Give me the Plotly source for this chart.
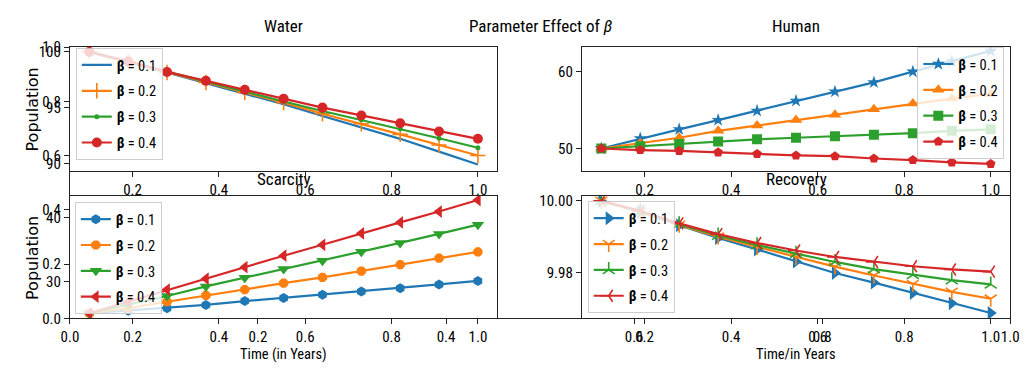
import plotly.graph_objects as go

# ---------------- data ----------------
time_x = [0.1, 0.19, 0.28, 0.37, 0.46, 0.55, 0.64, 0.73, 0.82, 0.91, 1.0]
beta_labels = ["<b>β</b> = 0.1", "<b>β</b> = 0.2", "<b>β</b> = 0.3", "<b>β</b> = 0.4"]

water_b1 = [100.0, 99.1, 98.15, 97.2, 96.25, 95.3, 94.25, 93.25, 92.2, 91.05, 89.9]
water_b2 = [100.0, 99.1, 98.15, 97.25, 96.35, 95.45, 94.45, 93.55, 92.6, 91.65, 90.7]
water_b3 = [100.0, 99.1, 98.2, 97.3, 96.45, 95.55, 94.7, 93.9, 93.1, 92.25, 91.4]
water_b4 = [100.0, 99.15, 98.2, 97.4, 96.6, 95.8, 95.0, 94.3, 93.6, 92.85, 92.2]

human_b1 = [50.0, 51.3, 52.5, 53.7, 54.9, 56.2, 57.4, 58.6, 60.0, 61.3, 62.7]
human_b2 = [50.0, 50.7, 51.4, 52.3, 53.0, 53.7, 54.4, 55.1, 55.85, 56.5, 57.1]
human_b3 = [50.0, 50.3, 50.6, 50.9, 51.2, 51.4, 51.6, 51.8, 52.0, 52.3, 52.5]
human_b4 = [50.0, 49.8, 49.7, 49.5, 49.3, 49.1, 49.0, 48.7, 48.5, 48.2, 48.0]

scarcity_b1 = [25.0, 25.4, 25.8, 26.3, 26.9, 27.4, 27.9, 28.4, 28.9, 29.5, 30.05]
scarcity_b2 = [25.0, 25.8, 26.8, 27.8, 28.7, 29.7, 30.6, 31.6, 32.6, 33.6, 34.6]
scarcity_b3 = [25.0, 26.3, 27.7, 29.2, 30.55, 31.9, 33.2, 34.6, 36.0, 37.4, 38.85]
scarcity_b4 = [25.0, 26.8, 28.7, 30.4, 32.2, 34.0, 35.7, 37.5, 39.2, 40.9, 42.7]

recovery_b1 = [10.0, 9.9969, 9.9932, 9.9896, 9.9864, 9.9830, 9.9798, 9.9771, 9.9742, 9.9713, 9.9686]
recovery_b2 = [10.0, 9.9970, 9.9933, 9.9900, 9.9871, 9.9843, 9.9816, 9.9791, 9.9767, 9.9745, 9.9726]
recovery_b3 = [10.0, 9.9971, 9.9935, 9.9903, 9.9876, 9.9852, 9.9829, 9.9809, 9.9793, 9.9778, 9.9766]
recovery_b4 = [10.0, 9.9972, 9.9937, 9.9907, 9.9882, 9.9861, 9.9843, 9.9829, 9.9817, 9.9808, 9.9802]

x_ticks = [0.2, 0.4, 0.6, 0.8, 1.0]
bg_ticks = [0.0, 0.2, 0.4, 0.6, 0.8, 1.0]
water_yticks = [90, 95, 100]
human_yticks = [50, 60]
scarcity_yticks = [30, 40]
recovery_yticks = [9.98, 10.00]

# ---------------- style ----------------
W, H = 1031, 374
COLORS = ["#1f77b4", "#ff7f0e", "#2ca02c", "#d62728"]
FONT = "Roboto Condensed, DejaVu Sans Condensed, Liberation Sans Narrow, Liberation Sans, sans-serif"
LINE = "#222222"


def dx(a, b):
    return [a / W, b / W]


def dy(top, bottom):
    return [1 - bottom / H, 1 - top / H]


fig = go.Figure()


def add_series(ys, xa, ya, legend, symbols, sizes, line_syms, group):
    for i, (yv, sym, sz) in enumerate(zip(ys, symbols, sizes)):
        c = COLORS[i]
        if sym is None:
            mode = "lines"
            marker = None
        else:
            mode = "lines+markers"
            if sym in line_syms:
                marker = dict(symbol=sym, size=sz, color=c, line=dict(color=c, width=1.6))
            else:
                marker = dict(symbol=sym, size=sz, color=c, line=dict(width=0))
        fig.add_trace(go.Scatter(
            x=time_x, y=yv, mode=mode, marker=marker,
            line=dict(color=c, width=2.2), name=beta_labels[i],
            xaxis=xa, yaxis=ya, legend=legend,
            legendgroup=f"{group}{i}", showlegend=True,
        ))


add_series([water_b1, water_b2, water_b3, water_b4], "x", "y", "legend",
           [None, "cross-thin", "circle", "circle"], [0, 11, 5, 10],
           ["cross-thin"], "w")
add_series([human_b1, human_b2, human_b3, human_b4], "x2", "y2", "legend2",
           ["star", "triangle-up", "square", "pentagon"], [10, 11, 10, 10],
           [], "h")
add_series([scarcity_b1, scarcity_b2, scarcity_b3, scarcity_b4], "x3", "y3", "legend3",
           ["hexagon", "octagon", "triangle-down", "triangle-left"], [10, 10, 11, 11],
           [], "s")
add_series([recovery_b1, recovery_b2, recovery_b3, recovery_b4], "x4", "y4", "legend4",
           ["triangle-right", "y-down", "y-up", "y-left"], [12, 10, 10, 10],
           ["y-down", "y-up", "y-left"], "r")

# empty traces so that the figure-wide background axes get drawn
fig.add_trace(go.Scatter(x=[], y=[], xaxis="x5", yaxis="y5", showlegend=False,
                         hoverinfo="skip"))
fig.add_trace(go.Scatter(x=[], y=[], xaxis="x5", yaxis="y6", showlegend=False,
                         hoverinfo="skip"))

tickfont = dict(family=FONT, size=15, color="black")


def ax(domain, anchor, rng, tickvals, fmt=".1f", mirror=True):
    return dict(domain=domain, anchor=anchor, range=rng, tickvals=tickvals,
                tickformat=fmt, ticks="outside", ticklen=5, tickwidth=1,
                tickcolor=LINE, showline=True, linecolor=LINE, linewidth=1,
                mirror=mirror, showgrid=False, zeroline=False, tickfont=tickfont)


X_RANGE = [0.055, 1.045]
layout = dict(
    xaxis=ax(dx(62, 497), "y", X_RANGE, x_ticks),
    yaxis=ax(dy(40, 170), "x", [89.33, 100.43], water_yticks, fmt="d"),
    xaxis2=ax(dx(583, 1019), "y2", X_RANGE, x_ticks),
    yaxis2=ax(dy(40, 170), "x2", [47.1, 63.2], human_yticks, fmt="d"),
    xaxis3=ax(dx(62, 497), "y3", X_RANGE, x_ticks),
    yaxis3=ax(dy(196, 325), "x3", [24.2, 43.4], scarcity_yticks, fmt="d"),
    xaxis4=ax(dx(583, 1019), "y4", X_RANGE, x_ticks),
    yaxis4=ax(dy(196, 325), "x4", [9.9671, 10.0015], recovery_yticks, fmt=".2f"),
    xaxis5=ax(dx(62, 1019), "y5", [0, 1], bg_ticks, mirror=False),
    yaxis5=ax(dy(40, 325), "x5", [0, 1], bg_ticks, mirror=False),
    yaxis6=dict(overlaying="y5", anchor="x5", side="right", range=[0, 1],
                showline=True, linecolor=LINE, linewidth=1, ticks="",
                showticklabels=False, showgrid=False, zeroline=False),
)

legend_common = dict(
    bgcolor="rgba(255,255,255,0.8)", bordercolor="rgba(200,200,200,0.9)",
    borderwidth=1, font=dict(family=FONT, size=14.5, color="black"),
    itemwidth=30, traceorder="grouped", tracegroupgap=4, yanchor="top",
)
layout["legend"] = dict(legend_common, x=68 / W, y=1 - 41 / H, xanchor="left")
layout["legend2"] = dict(legend_common, x=1013 / W, y=1 - 40 / H, xanchor="right")
layout["legend3"] = dict(legend_common, x=67 / W, y=1 - 203 / H, xanchor="left")
layout["legend4"] = dict(legend_common, x=589 / W, y=1 - 202 / H, xanchor="left")

title_font = dict(family=FONT, size=17, color="black")
label_font = dict(family=FONT, size=14.5, color="black")
annotations = [
    dict(text="Water", x=279.5 / W, y=1 - 18 / H, font=title_font),
    dict(text="Human", x=801 / W, y=1 - 18 / H, font=title_font),
    dict(text="Scarcity", x=279.5 / W, y=1 - 179 / H, font=title_font),
    dict(text="Recovery", x=801 / W, y=1 - 179 / H, font=title_font),
    dict(text="Parameter Effect of <i>β</i>", x=540.5 / W, y=1 - 18 / H, font=title_font),
    dict(text="Time (in Years)", x=279.5 / W, y=0.0, font=label_font, yanchor="bottom"),
    dict(text="Time/in Years", x=801 / W, y=0.0, font=label_font, yanchor="bottom"),
    dict(text="Population", x=24 / W, y=1 - 106 / H, textangle=-90,
         font=dict(family="DejaVu Sans", size=16, color="black")),
    dict(text="Population", x=24 / W, y=1 - 262 / H, textangle=-90,
         font=dict(family="DejaVu Sans", size=16, color="black")),
]
for a in annotations:
    a.setdefault("yanchor", "middle")
    a.update(xref="paper", yref="paper", showarrow=False, xanchor="center")

fig.update_layout(
    **layout,
    annotations=annotations,
    width=W, height=H,
    margin=dict(l=0, r=0, t=0, b=0),
    paper_bgcolor="white", plot_bgcolor="rgba(0,0,0,0)",
    showlegend=True,
)

fig.write_html("out.html", config={"displayModeBar": False},
               post_script="document.body.style.margin='0px';")
